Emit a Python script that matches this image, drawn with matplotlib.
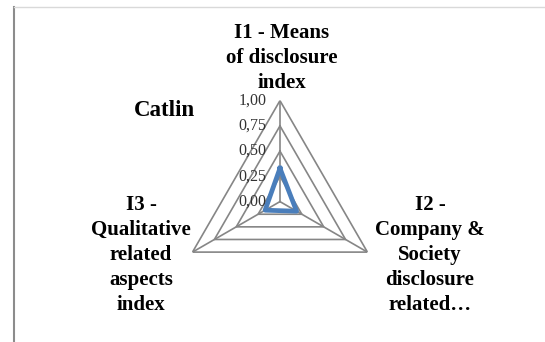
import numpy as np
import matplotlib.pyplot as plt

title = "Catlin"
categories = ["I1 - Means\nof disclosure\nindex",
              "I2 -\nCompany &\nSociety\ndisclosure\nrelated\u2026",
              "I3 -\nQualitative\nrelated\naspects\nindex"]
values = [0.33, 0.19, 0.17]
ticks = [0.0, 0.25, 0.5, 0.75, 1.0]
tick_labels = ["0,00", "0,25", "0,50", "0,75", "1,00"]

plt.rcParams['font.family'] = ['Liberation Serif', 'DejaVu Serif']

fig = plt.figure(figsize=(5.45, 3.42), dpi=100)
ax = fig.add_axes([0.3284, 0.1152, 0.3706, 0.5906], projection='polar')
ax.set_theta_zero_location('N')
ax.set_theta_direction(-1)
ax.set_ylim(0, 1)
ax.grid(False)
ax.spines['polar'].set_visible(False)
ax.set_xticks([])
ax.set_yticks([])
ax.patch.set_alpha(0)

theta = np.linspace(0, 2 * np.pi, len(categories), endpoint=False)
theta_c = np.append(theta, theta[0])

grid_col = '#868686'
for t in ticks[1:]:
    ax.plot(theta_c, [t] * len(theta_c), color=grid_col, lw=1.2, zorder=1)
for th in theta:
    ax.plot([th, th], [0, 1], color=grid_col, lw=1.2, zorder=1)

vals = np.append(values, values[0])
ax.plot(theta_c, vals, color='#4A7EBB', lw=3.4, solid_joinstyle='round', zorder=3)

for t, lab in zip(ticks, tick_labels):
    ax.annotate(lab, xy=(0, t), xytext=(-9.5, 0), textcoords='offset points',
                ha='right', va='center', fontsize=11.5, color='#333333', zorder=2)

# axis labels
lab_kw = dict(ha='center', va='center', fontsize=15, fontweight='bold',
              linespacing=1.33)
fig.text(282 / 545, 1 - 58 / 342, categories[0], **lab_kw)
fig.text(430 / 545, 1 - 255 / 342, categories[1], **lab_kw)
fig.text(141 / 545, 1 - 255 / 342, categories[2], **lab_kw)

fig.text(164 / 545, 1 - 111 / 342, title, ha='center', va='center',
         fontsize=16.5, fontweight='bold')

# chart frame pieces
fig.add_artist(plt.Line2D([14 / 545, 14 / 545], [0, 1 - 7 / 342],
                          color='#8c8c8c', lw=1.5))
fig.add_artist(plt.Line2D([14 / 545, 1], [1 - 7 / 342, 1 - 7 / 342],
                          color='#d9d9d9', lw=1))

fig.savefig('out.png', dpi=100)
